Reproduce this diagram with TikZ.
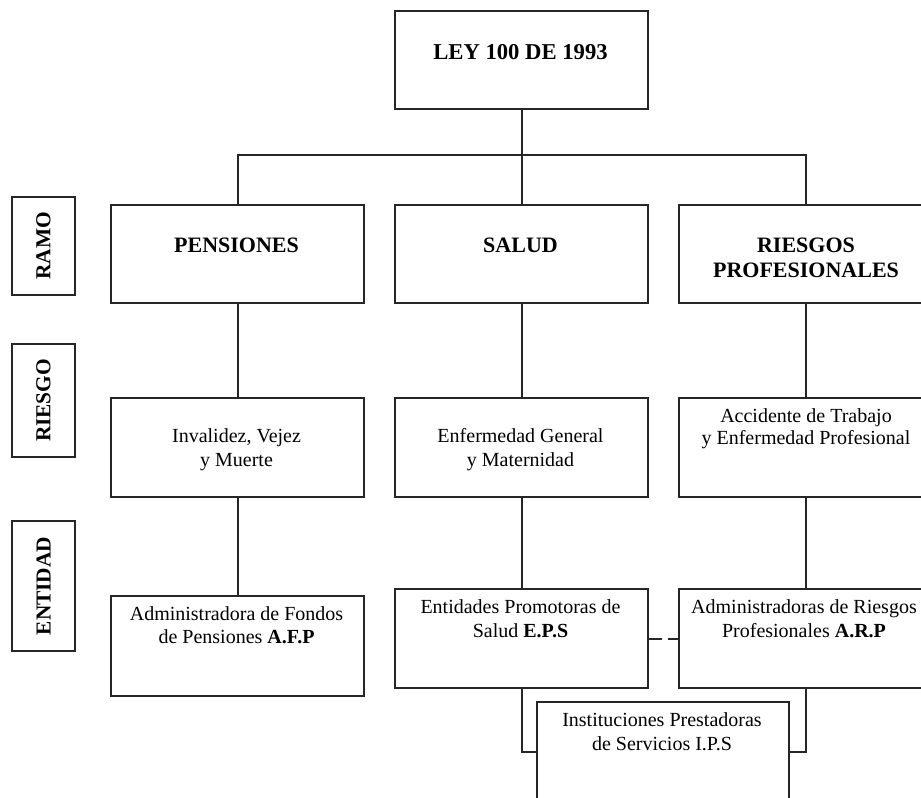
\documentclass[tikz,border=0pt]{standalone}
\usepackage{fontspec}
\setmainfont{Liberation Serif}
\begin{document}
\begin{tikzpicture}[x=0.75pt,y=-0.75pt,
  box/.style={draw=black!85, line width=1.5pt, inner sep=0pt, anchor=north west,
    minimum width=189.75pt, minimum height=73.5pt},
  lbl/.style={draw=black!85, line width=1.5pt, inner sep=0pt, anchor=north west,
    minimum width=47.25pt},
  txt/.style={inner sep=0pt, anchor=base, align=center, font=\fontsize{15}{17.5}\selectfont},
  hdr/.style={inner sep=0pt, anchor=base, align=center, font=\fontsize{16.5}{19}\selectfont\bfseries},
  lbltxt/.style={inner sep=0pt, rotate=90, font=\fontsize{16}{19}\selectfont\bfseries},
  conn/.style={draw=black!85, line width=1.5pt}
]
\clip (0,0) rectangle (921,798);
\fill[white] (0,0) rectangle (921,798);

% boxes
\node[box] (tit) at (394,10) {};
\node[box] (pen) at (110,204) {};
\node[box] (sal) at (394,204) {};
\node[box] (rp) at (678,204) {};
\node[box, minimum height=74.25pt] (ivm) at (110,397) {};
\node[box, minimum height=74.25pt] (egm) at (394,397) {};
\node[box, minimum height=74.25pt] (atep) at (678,397) {};
\node[box, minimum height=75pt] (afp) at (110,595) {};
\node[box, minimum height=74.25pt] (eps) at (394,588) {};
\node[box, minimum height=74.25pt] (arp) at (678,588) {};
\node[box, minimum width=189pt, minimum height=75pt] (ips) at (536,701) {};

% label boxes
\node[lbl, minimum height=73.5pt] (ramo) at (11,196) {};
\node[lbl, minimum height=84.75pt] (riesgo) at (11,343) {};
\node[lbl, minimum height=97.5pt] (entidad) at (11,520) {};
\node[lbltxt] (ramot) at (ramo.center) {RAMO};
\node[lbltxt] (riesgot) at (riesgo.center) {RIESGO};
\node[lbltxt] (entidadt) at (entidad.center) {ENTIDAD};

% texts
\node[hdr, font=\fontsize{17}{19}\selectfont\bfseries] (titt) at (520.5,60) {LEY 100 DE 1993};
\node[hdr] (pent) at (236.5,253) {PENSIONES};
\node[hdr] (salt) at (520.5,253) {SALUD};
\node[hdr] (rpt1) at (806,253) {RIESGOS};
\node[hdr] (rpt2) at (806,278) {PROFESIONALES};
\node[txt] (ivm1) at (236.5,443) {Invalidez, Vejez};
\node[txt] (ivm2) at (236.5,466) {y Muerte};
\node[txt] (egm1) at (520.5,443) {Enfermedad General};
\node[txt] (egm2) at (520.5,466) {y Maternidad};
\node[txt] (atep1) at (806,422) {Accidente de Trabajo};
\node[txt] (atep2) at (806,445) {y Enfermedad Profesional};
\node[txt] (afp1) at (236.5,620) {Administradora de Fondos};
\node[txt] (afp2) at (236.5,643) {de Pensiones \textbf{A.F.P}};
\node[txt] (eps1) at (520.5,613) {Entidades Promotoras de};
\node[txt] (eps2) at (520.5,637) {Salud \textbf{E.P.S}};
\node[txt] (arp1) at (804,613) {Administradoras de Riesgos};
\node[txt] (arp2) at (804,637) {Profesionales \textbf{A.R.P}};
\node[txt] (ips1) at (662,726) {Instituciones Prestadoras};
\node[txt] (ips2) at (662,750) {de Servicios I.P.S};

% connectors
\coordinate (bus) at (520.5,155.5);
\draw[conn] (tit.south) -- (sal.north);
\draw[conn] (pen.north) |- (bus) -| (rp.north);
\draw[conn] (pen.south) -- (ivm.north);
\draw[conn] (sal.south) -- (egm.north);
\draw[conn] (rp.south) -- (atep.north);
\draw[conn] (ivm.south) -- (afp.north);
\draw[conn] (egm.south) -- (eps.north);
\draw[conn] (atep.south) -- (arp.north);
\draw[conn] (eps.south) |- (ips.west);
\draw[conn] (arp.south) |- (ips.east);
\draw[conn, dash pattern=on 9.75pt off 4.5pt] (eps.east) -- (arp.west);
\end{tikzpicture}
\end{document}
